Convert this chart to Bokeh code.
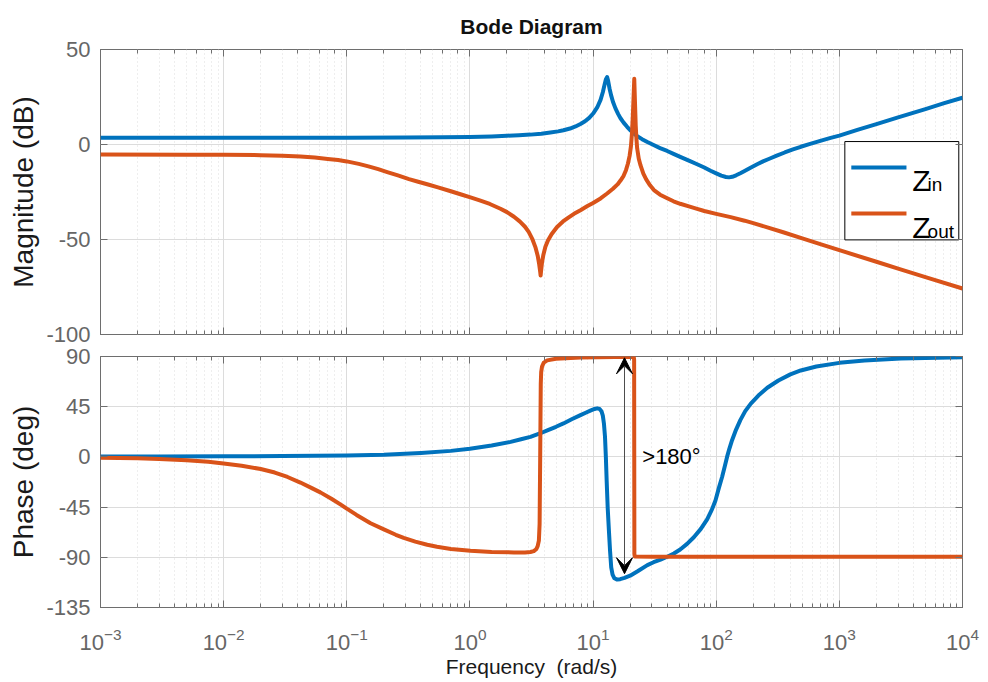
import numpy as np
from bokeh.plotting import figure
from bokeh.layouts import column
from bokeh.models import (Range1d, FixedTicker, LogTicker, LinearAxis, LogAxis, Arrow,
                          VeeHead, Label, CustomJSTickFormatter)
from bokeh.embed import file_html
from bokeh.resources import INLINE

# ---------------------------------------------------------------- data
F_MIN, F_MAX = 1e-3, 1e4          # frequency span, rad/s
MAG_MIN, MAG_MAX = -100, 50       # dB
PH_MIN, PH_MAX = -135, 90         # deg
MAG_TICKS = [-100, -50, 0, 50]
PHASE_TICKS = [-135, -90, -45, 0, 45, 90]

# input impedance Z_in, magnitude (rad/s, dB)
zin_mag_w = [0.001, 0.01, 0.1, 0.3, 0.6, 1.0, 1.5, 2.0, 2.5, 3.1, 3.8, 4.5, 5.2, 5.75,
             6.5, 7.2, 7.9, 8.6, 9.3, 10.1, 10.8, 11.5, 12.0, 12.4, 12.7, 13.0, 13.25,
             13.6, 14.0, 14.5, 15.2, 16.0, 16.7, 17.7, 18.9, 20.2, 21.4, 23, 25, 27.6,
             31, 35, 40, 45, 51, 60, 70, 80, 90, 100, 110, 120, 127, 135, 145, 157, 170,
             190, 215, 240, 270, 310, 360, 420, 486, 570, 700, 850, 1000, 1400, 2000,
             3000, 5000, 7000, 10000]
zin_mag_db = [3.5, 3.5, 3.55, 3.65, 3.8, 3.95, 4.25, 4.6, 4.9, 5.2, 5.7, 6.3, 6.9, 7.5,
              8.4, 9.5, 10.8, 12.2, 14.0, 16.6, 19.5, 23.5, 27.5, 31.5, 34.2, 35.5, 33.5,
              29.5, 26.0, 22.5, 19.0, 16.0, 13.8, 11.5, 9.3, 7.3, 5.8, 4.3, 2.8, 1.3,
              -0.3, -1.9, -3.4, -4.9, -6.5, -8.5, -10.4, -12.1, -13.8, -15.2, -16.4,
              -17.1, -17.3, -17.0, -16.2, -15.1, -13.9, -12.2, -10.4, -8.9, -7.5, -5.9,
              -4.2, -2.6, -1.2, 0.2, 1.9, 3.5, 4.7, 7.7, 10.7, 14.3, 18.6, 21.6, 24.6]

# output impedance Z_out, magnitude (rad/s, dB)
zout_mag_w = [0.001, 0.005, 0.01, 0.02, 0.03, 0.042, 0.055, 0.07, 0.085, 0.1, 0.125,
              0.15, 0.18, 0.213, 0.26, 0.32, 0.38, 0.45, 0.55, 0.7, 0.85, 1.01, 1.2,
              1.45, 1.77, 2.0, 2.28, 2.55, 2.8, 3.0, 3.2, 3.4, 3.55, 3.65, 3.72, 3.75,
              3.79, 3.85, 3.95, 4.1, 4.3, 4.6, 5.1, 5.7, 6.3, 7.0, 7.9, 9.0, 10, 11.5,
              13, 14.5, 15.8, 16.7, 17.7, 18.5, 19.2, 19.8, 20.3, 20.7, 21.0, 21.3, 21.6,
              21.9, 22.2, 22.5, 22.8, 23.5, 24.3, 25.6, 27, 29, 31.2, 35, 40, 45, 51, 60,
              70, 80, 100, 131, 170, 200, 260, 350, 500, 700, 1000, 2000, 3000, 5000,
              10000]
zout_mag_db = [-5.3, -5.35, -5.4, -5.6, -5.9, -6.3, -6.9, -7.6, -8.2, -8.9, -10.2, -11.5,
               -13.0, -14.5, -16.3, -18.2, -19.6, -20.9, -22.6, -24.6, -26.3, -27.8,
               -29.4, -31.3, -33.8, -35.6, -38.0, -40.6, -43.3, -46.0, -49.5, -54.0,
               -58.5, -63.0, -67.0, -69.0, -66.0, -62.0, -58.0, -53.8, -50.5, -47.2,
               -43.4, -40.5, -38.5, -36.5, -34.6, -32.4, -30.8, -28.4, -25.8, -23.3,
               -21.0, -19.0, -16.5, -13.5, -10.0, -6.0, -1.0, 6.0, 14.0, 24.0, 34.6,
               22.0, 10.0, 3.0, -2.0, -7.5, -11.0, -15.3, -18.4, -21.5, -24.0, -26.4,
               -28.3, -29.9, -31.2, -32.6, -33.9, -35.0, -36.5, -38.2, -40.1, -41.4,
               -43.6, -46.2, -49.4, -52.4, -55.6, -61.7, -65.3, -69.8, -75.8]

# input impedance Z_in, phase (rad/s, deg)
zin_ph_w = [0.001, 0.003, 0.01, 0.03, 0.1, 0.2, 0.4, 0.7, 1.0, 1.5, 2.14, 2.6, 3.1, 3.7,
            4.3, 5.0, 5.75, 6.7, 7.9, 8.8, 9.6, 10.3, 10.8, 11.3, 11.7, 12.0, 12.25, 12.5,
            12.7, 12.9, 13.15, 13.43, 13.75, 14.04, 14.4, 14.9, 15.7, 16.6, 18, 20, 23,
            27.6, 31, 35.3, 40, 45.3, 51, 58, 65.8, 75, 84.4, 92, 98.6, 105, 111.6, 117,
            122.5, 128, 134.5, 145, 157, 172, 191, 220, 260, 320, 400, 486, 650, 1000,
            1600, 3162, 10000]
zin_ph_deg = [0.4, 0.45, 0.5, 0.8, 1.2, 2.0, 3.6, 5.4, 7.3, 10.2, 13.5, 15.8, 18.0, 21.0,
              24.0, 27.0, 30.0, 33.7, 37.4, 39.8, 41.7, 43.0, 43.5, 43.0, 41.0, 37.0,
              30.0, 18.0, 0.0, -22.0, -46.0, -65.0, -85.0, -99.0, -105.5, -108.8,
              -110.0, -109.6, -108.5, -106.5, -102.5, -97.0, -94.4, -92.0, -89.5, -86.6,
              -83.0, -78.0, -72.0, -64.5, -56.0, -47.5, -39.0, -28.0, -18.0, -9.0, 0.0,
              7.5, 15.0, 24.5, 33.0, 41.0, 47.8, 55.0, 62.0, 68.5, 74.0, 77.5, 81.0,
              84.3, 86.5, 88.1, 89.3]

# output impedance Z_out, phase (rad/s, deg)
zout_ph_w = [0.001, 0.002, 0.003, 0.005, 0.0075, 0.01, 0.014, 0.02, 0.026, 0.033, 0.042,
             0.052, 0.061, 0.075, 0.09, 0.1, 0.12, 0.156, 0.2, 0.25, 0.29, 0.36, 0.45,
             0.54, 0.7, 1.01, 1.5, 2.28, 2.8, 3.1, 3.3, 3.45, 3.55, 3.63, 3.68, 3.72,
             3.76, 3.79, 3.85, 3.98, 4.24, 5.0, 7.9, 15, 21.4, 21.55, 21.6, 21.65, 21.8,
             30, 10000]
zout_ph_deg = [-0.8, -1.3, -1.9, -3.0, -4.4, -6.0, -8.0, -10.8, -14.0, -18.0, -23.0,
               -28.0, -31.8, -37.5, -43.0, -46.4, -52.0, -59.5, -65.0, -69.8, -72.6,
               -76.0, -78.8, -80.6, -82.5, -84.2, -85.2, -85.6, -85.6, -85.3, -84.5,
               -82.8, -80.0, -75.0, -60.0, 0.0, 65.0, 76.0, 81.0, 84.5, 86.5, 88.0, 89.2,
               89.6, 89.6, 87.0, 0.0, -87.0, -89.2, -89.5, -89.5]

# ---------------------------------------------------------------- style
FONT = "Liberation Sans"
BLUE = "#0072BD"
ORANGE = "#D95319"
FRAME = "#6e6e6e"
TICK_TXT = "#666666"
GRID = "#dcdcdc"
LW = 4

shared_x = Range1d(F_MIN, F_MAX)
plain_numbers = CustomJSTickFormatter(code="return String(tick)")


def style_axis(ax, labels=True, minor=True):
    ax.axis_line_color = None
    ax.major_tick_in = 7
    ax.major_tick_out = 0
    ax.minor_tick_in = 4 if minor else 0
    ax.minor_tick_out = 0
    ax.major_tick_line_color = FRAME
    ax.minor_tick_line_color = FRAME if minor else None
    ax.major_label_text_font = FONT
    ax.major_label_text_font_size = "22px"
    ax.major_label_text_color = TICK_TXT
    ax.major_label_standoff = 10
    ax.axis_label_text_font = FONT
    ax.axis_label_text_font_style = "normal"
    ax.axis_label_text_color = "#1a1a1a"
    if not labels:
        ax.formatter = CustomJSTickFormatter(code="return ''")
        ax.major_label_standoff = 0
        ax.major_label_text_font_size = "1px"


def make_panel(frame_h, y_lo, y_hi, ticks, ylabel, top_border, bottom_border, title=None):
    p = figure(frame_width=862, frame_height=frame_h, x_axis_type="log", x_range=shared_x,
               y_range=Range1d(y_lo, y_hi), output_backend="svg", toolbar_location=None,
               min_border_left=100, min_border_right=26, min_border_top=top_border,
               min_border_bottom=bottom_border, title=title)
    p.outline_line_color = FRAME
    p.outline_line_width = 1

    yt = FixedTicker(ticks=ticks)
    left = p.left[0]
    left.ticker = yt
    left.formatter = plain_numbers
    p.ygrid.ticker = yt
    style_axis(left, labels=True, minor=False)
    left.axis_label = ylabel
    left.axis_label_text_font_size = "28px"
    left.axis_label_standoff = 4

    right = LinearAxis(ticker=FixedTicker(ticks=ticks))
    style_axis(right, labels=False, minor=False)
    p.add_layout(right, "right")

    top = LogAxis(ticker=LogTicker())
    style_axis(top, labels=False)
    p.add_layout(top, "above")

    p.xgrid.grid_line_color = GRID
    p.xgrid.minor_grid_line_color = GRID
    p.xgrid.minor_grid_line_dash = "1 3"
    p.ygrid.grid_line_color = GRID
    return p


# helpers: fractions of the magnitude frame -> data coordinates
def fx(frac):
    lo, hi = np.log10(F_MIN), np.log10(F_MAX)
    return 10 ** (lo + frac * (hi - lo))


def fy(frac):
    return MAG_MIN + frac * (MAG_MAX - MAG_MIN)


# ---------------------------------------------------------------- magnitude
p1 = make_panel(285, MAG_MIN, MAG_MAX, MAG_TICKS, "Magnitude (dB)", 49, 32,
                title="Bode Diagram")
style_axis(p1.below[0], labels=False)
p1.title.align = "center"
p1.title.vertical_align = "middle"
p1.title.standoff = 21
p1.title.text_font = FONT
p1.title.text_font_size = "21px"
p1.title.text_font_style = "bold"
p1.title.text_color = "#111111"

p1.line(zin_mag_w, zin_mag_db, line_color=BLUE, line_width=LW, line_join="round")
p1.line(zout_mag_w, zout_mag_db, line_color=ORANGE, line_width=LW, line_join="round")

# legend
p1.quad(left=[fx(0.8635)], right=[fx(0.9957)], top=[fy(0.677)], bottom=[fy(0.332)],
        fill_color="white", line_color="black", line_width=1)
for color, yf in ((BLUE, 0.586), (ORANGE, 0.4246)):
    p1.line([fx(0.871), fx(0.935)], [fy(yf), fy(yf)], line_color=color, line_width=LW)
for base, sub, yb, ys in (("Z", "in", 0.540, 0.526), ("Z", "out", 0.3765, 0.3625)):
    p1.add_layout(Label(x=fx(0.9416), y=fy(yb), text=base, text_font=FONT,
                        text_font_size="30px", text_baseline="alphabetic",
                        text_color="black"))
    p1.add_layout(Label(x=fx(0.9595), y=fy(ys), text=sub, text_font=FONT,
                        text_font_size="19px", text_baseline="alphabetic",
                        text_color="black"))

# ---------------------------------------------------------------- phase
# the phase panel tucks up under the magnitude panel's bottom border; its own
# border is transparent so both edge tick labels stay whole
p2 = make_panel(251, PH_MIN, PH_MAX, PHASE_TICKS, "Phase (deg)", 26, 75)
p2.border_fill_color = None
p2.margin = (-36, 0, 0, 0)
xa = p2.below[0]
style_axis(xa, labels=True)
xa.major_label_standoff = 20
xa.axis_label = "Frequency\u00a0 (rad/s)"
xa.axis_label_text_font_size = "21px"
xa.axis_label_standoff = 2

p2.line(zin_ph_w, zin_ph_deg, line_color=BLUE, line_width=LW, line_join="round")
p2.line(zout_ph_w, zout_ph_deg, line_color=ORANGE, line_width=LW, line_join="round")

# phase-gap marker between the two curves
ARROW_W = 18.0
p2.add_layout(Arrow(x_start=ARROW_W, y_start=-104.7, x_end=ARROW_W, y_end=88.8,
                    line_color="#4d4d4d", line_width=1,
                    start=VeeHead(size=16, fill_color="black", line_color="black"),
                    end=VeeHead(size=16, fill_color="black", line_color="black")))
p2.add_layout(Label(x=25.1, y=0, text=">180°", text_font=FONT, text_font_size="22px",
                    text_baseline="alphabetic", text_color="black"))

layout = column(p1, p2)
open("out.html", "w").write(file_html(layout, INLINE))
